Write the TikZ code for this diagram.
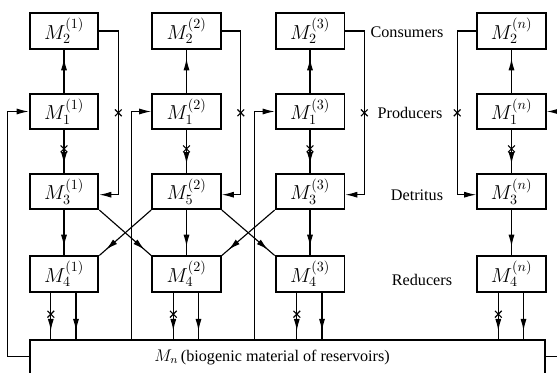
\documentclass[tikz,border=0pt]{standalone}
\usepackage{fontspec}
\setmainfont{Liberation Serif}
\usetikzlibrary{arrows.meta, positioning, calc, shapes.misc, decorations.markings}

\begin{document}
\begin{tikzpicture}[
    x=0.025cm, y=-0.025cm,
    box/.style={
        draw,
        line width=1.3pt,
        minimum width=1.72cm,
        minimum height=0.88cm,
        inner sep=1pt,
        font=\Large
    },
    flow/.style={
        line width=0.8pt,
        postaction={decorate},
        decoration={markings,
            mark=at position -0.22cm with {\arrow{Latex[length=3mm,width=1.5mm]}}}
    },
    feed/.style={
        line width=0.8pt,
        -{Latex[length=3mm,width=1.5mm]}
    },
    cross/.style={
        cross out,
        draw,
        line width=0.8pt,
        minimum size=1.4mm,
        inner sep=0pt
    },
    level/.style={
        font=\fontsize{11.5pt}{13pt}\selectfont
    }
]
\useasboundingbox (0,0) rectangle (557,373);

% Reservoir box (open at the bottom)
\node[minimum width=12.875cm, minimum height=0.825cm, inner sep=0pt] (mn) at (287.5,356.5) {};
\draw[line width=1.3pt] (mn.south west) -- (mn.north west) -- (mn.north east) -- (mn.south east);
\node[level] (mntext) at (272,357) {$M_n$\,(biogenic material of reservoirs)};

% Compartments of each reservoir
\foreach \col/\x/\t in {1/64/3, 2/186.5/5, 3/310/3, n/511.5/3} {
    \node[box] (m2\col) at (\x,31) {$M_2^{(\col)}$};
    \node[box] (m1\col) at (\x,111.5) {$M_1^{(\col)}$};
    \node[box] (m3\col) at (\x,191.5) {$M_\t^{(\col)}$};
    \node[box] (m4\col) at (\x,274) {$M_4^{(\col)}$};
    % Vertical flows
    \draw[flow] (m1\col) -- (m2\col);
    \draw[flow] (m1\col) -- (m3\col) node[cross, pos=0.44] (xd\col) {};
    \draw[flow] (m3\col) -- (m4\col);
    % Down into the reservoir
    \draw[flow] ([xshift=-0.33cm]m4\col.south) -- ([xshift=-0.33cm]m4\col.south |- mn.north)
        node[cross, pos=0.46] (xr\col) {};
    \draw[flow] ([xshift=0.3cm]m4\col.south) -- ([xshift=0.3cm]m4\col.south |- mn.north);
}

% Consumers back to detritus
\foreach \col in {1,2,3} {
    \draw[feed] (m2\col.east) -- ++(19,0) |- node[cross, pos=0.25] (xc\col) {}
        ([yshift=-0.08cm]m3\col.east);
}
\draw[feed] (m2n.west) -- ++(-19,0) |- node[cross, pos=0.25] (xcn) {}
    ([yshift=-0.08cm]m3n.west);

% Reservoir back to producers
\draw[feed] (mn.west) -- ++(-22,0) |- (m11.west);
\foreach \col in {2,3} {
    \coordinate (in\col) at ([xshift=-0.5cm]m1\col.west);
    \draw[feed] (in\col |- mn.north) -- (in\col) -- (m1\col.west);
}
\draw[feed] (mn.east) -- ++(13,0) |- (m1n.east);

% Crossing exchange of detritus
\draw[flow] (m31.south east) -- (m42.north west);
\draw[flow] (m32.south west) -- (m41.north east);
\draw[flow] (m32.south east) -- (m43.north west);
\draw[flow] (m33.south west) -- (m42.north east);

% Row names
\node[level] (consumers) at (407,32) {Consumers};
\node[level] (producers) at (410,113) {Producers};
\node[level] (detritus) at (417,195) {Detritus};
\node[level] (reducers) at (422,280) {Reducers};
\end{tikzpicture}
\end{document}
